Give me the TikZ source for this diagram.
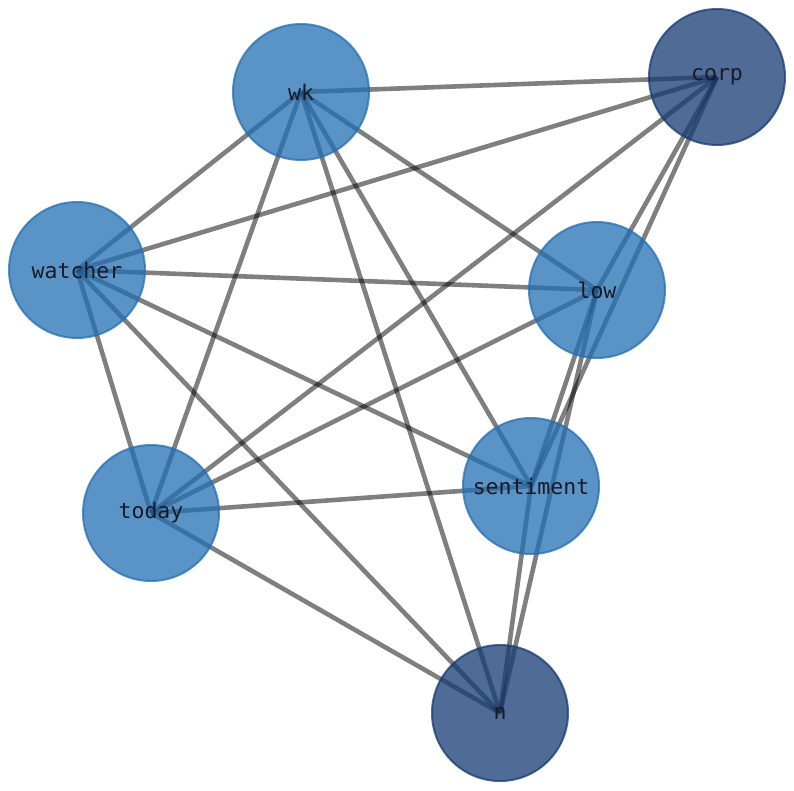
\documentclass[tikz,border=0pt]{standalone}
\usepackage{fontspec}
\newfontfamily\labelfont{DejaVu Sans Mono}
\definecolor{nodeblue}{HTML}{236FB3}
\definecolor{nodedark}{HTML}{153B73}
\definecolor{labeltext}{HTML}{1A1A24}
\begin{document}
\begin{tikzpicture}[x=1pt,y=-1pt,
  vert/.style={circle,minimum size=136pt,inner sep=0pt,line width=2pt,fill=nodeblue,draw=nodeblue,fill opacity=0.75,draw opacity=0.75},
  vertdark/.style={vert,fill=nodedark,draw=nodedark},
  lbl/.style={font=\labelfont\fontsize{21.5}{24}\selectfont,text=labeltext,inner sep=0pt},
  link/.style={line width=4.6pt,draw=black,draw opacity=0.5}]
\useasboundingbox (0,0) rectangle (794,790);
% coordinates
\coordinate (wk) at (301,92);
\coordinate (corp) at (717,77);
\coordinate (watcher) at (77,270);
\coordinate (low) at (597,290);
\coordinate (sentiment) at (531,486);
\coordinate (today) at (151,513);
\coordinate (n) at (500,713);
% edges
\foreach \a/\b in {wk/corp,wk/watcher,wk/low,wk/sentiment,wk/n,wk/today,
  corp/watcher,corp/today,corp/low,corp/sentiment,
  watcher/low,watcher/sentiment,watcher/n,watcher/today,
  low/today,low/sentiment,low/n,
  sentiment/today,sentiment/n,today/n}
  \draw[link] (\a) -- (\b);
% nodes
\node[vert] (cwk) at (wk) {};
\node[vertdark] (ccorp) at (corp) {};
\node[vert] (cwatcher) at (watcher) {};
\node[vert] (clow) at (low) {};
\node[vert] (csentiment) at (sentiment) {};
\node[vert] (ctoday) at (today) {};
\node[vertdark] (cn) at (n) {};
% labels
\node[lbl] (lwk) at (wk) {wk};
\node[lbl] (lcorp) at (corp) {corp};
\node[lbl] (lwatcher) at (watcher) {watcher};
\node[lbl] (llow) at (low) {low};
\node[lbl] (lsentiment) at (sentiment) {sentiment};
\node[lbl] (ltoday) at (today) {today};
\node[lbl] (ln) at (n) {n};
\end{tikzpicture}
\end{document}
